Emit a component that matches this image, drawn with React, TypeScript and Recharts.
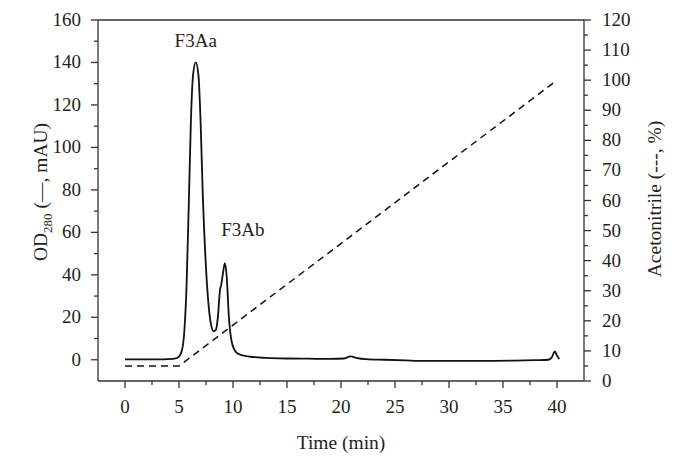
import { LineChart, Line, XAxis, YAxis, ReferenceLine, ReferenceDot, Label } from "recharts";

// OD280 trace (min, mAU)
const odTime = [0, 1, 2, 3, 4, 4.6, 5.0, 5.3, 5.5, 5.7, 5.9, 6.1, 6.3, 6.55, 6.8, 7.0, 7.2, 7.45, 7.7, 7.95, 8.2, 8.4, 8.6, 8.8, 8.9, 9.05, 9.25, 9.42, 9.62, 9.9, 10.3, 10.8, 12, 13, 15, 17, 19, 20.3, 20.9, 21.5, 22.3, 24, 26, 28, 30, 32, 34, 36, 38, 39.2, 39.5, 39.8, 40.0, 40.2];
const odValue = [0.2, 0.2, 0.2, 0.2, 0.3, 0.5, 1.5, 5, 14, 35, 72, 112, 134, 140, 134, 112, 78, 48, 28, 17, 13.5, 14, 20, 33, 35, 40, 45.5, 39, 20, 8, 3.5, 2.2, 1.2, 0.9, 0.6, 0.5, 0.4, 0.6, 1.6, 0.8, 0.3, 0, -0.3, -0.5, -0.5, -0.5, -0.5, -0.4, -0.2, 0, 1, 3.9, 2, 0.3];

// acetonitrile gradient (min, %)
const gradTime = [0, 5, 40];
const gradValue = [5, 5, 100];

const peakNames = ["F3Aa", "F3Ab"];
const peakTime = [6.55, 9.25];
const peakOd = [140, 45.5];

const xTicks = [0, 2.5, 5, 7.5, 10, 12.5, 15, 17.5, 20, 22.5, 25, 27.5, 30, 32.5, 35, 37.5, 40];
const leftTicks = [0, 10, 20, 30, 40, 50, 60, 70, 80, 90, 100, 110, 120, 130, 140, 150, 160];
const rightTicks = [0, 5, 10, 15, 20, 25, 30, 35, 40, 45, 50, 55, 60, 65, 70, 75, 80, 85, 90, 95, 100, 105, 110, 115, 120];

const odData = odTime.map((t, i) => ({ t, od: odValue[i] }));
const gradData = gradTime.map((t, i) => ({ t, acn: gradValue[i] }));

const AXIS = "#333";
const INK = "#231f20";
const FONT = "'Liberation Serif', 'Times New Roman', serif";
const TICK_FS = 19;
const TITLE_FS = 19.5;

const BottomTick = (props: any) => {
  const { x, y, payload } = props;
  const major = payload.value % 5 === 0;
  return (
    <g>
      <line x1={x} y1={y} x2={x} y2={y + (major ? 7 : 4)} stroke={AXIS} strokeWidth={1.3} />
      {major && (
        <text x={x} y={y + 32} textAnchor="middle" fontSize={TICK_FS} fontFamily={FONT} fill={INK}>
          {payload.value}
        </text>
      )}
    </g>
  );
};

const LeftTick = (props: any) => {
  const { x, y, payload } = props;
  const major = payload.value % 20 === 0;
  return (
    <g>
      <line x1={x} y1={y} x2={x - (major ? 7 : 4)} y2={y} stroke={AXIS} strokeWidth={1.3} />
      {major && (
        <text x={x - 17} y={y + 6} textAnchor="end" fontSize={TICK_FS} fontFamily={FONT} fill={INK}>
          {payload.value}
        </text>
      )}
    </g>
  );
};

const RightTick = (props: any) => {
  const { x, y, payload } = props;
  const major = payload.value % 10 === 0;
  return (
    <g>
      <line x1={x} y1={y} x2={x + (major ? 7 : 4)} y2={y} stroke={AXIS} strokeWidth={1.3} />
      {major && (
        <text x={x + 18} y={y + 6} textAnchor="start" fontSize={TICK_FS} fontFamily={FONT} fill={INK}>
          {payload.value}
        </text>
      )}
    </g>
  );
};

const peakLabel = (name: string, dx: number, dy: number) => (props: any) => {
  const { viewBox } = props;
  return (
    <text x={viewBox.x + dx} y={viewBox.y + dy} textAnchor="middle" fontSize={TICK_FS} fontFamily={FONT} fill={INK}>
      {name}
    </text>
  );
};

const labelOffsets = [
  [0, -15],
  [18, -27],
];

export default function App() {
  return (
    <div style={{ position: "absolute", left: 0, top: 0, background: "#fff" }}>
      <LineChart width={678} height={463} margin={{ top: 20, right: 0, bottom: 0, left: 0 }}>
        <XAxis
          xAxisId="x"
          type="number"
          dataKey="t"
          domain={[-2.5, 42.5]}
          ticks={xTicks}
          interval={0}
          allowDataOverflow
          height={82}
          tickSize={0}
          tickMargin={0}
          tick={<BottomTick />}
          stroke={AXIS}
          strokeWidth={1.3}
        >
          <Label
            content={() => (
              <text x={341} y={449} textAnchor="middle" fontSize={TITLE_FS} fontFamily={FONT} fill={INK}>
                Time (min)
              </text>
            )}
          />
        </XAxis>
        <YAxis
          yAxisId="left"
          orientation="left"
          type="number"
          domain={[-10, 160]}
          ticks={leftTicks}
          interval={0}
          allowDataOverflow
          width={98}
          tickSize={0}
          tickMargin={0}
          tick={<LeftTick />}
          stroke={AXIS}
          strokeWidth={1.3}
        >
          <Label
            content={() => (
              <text
                x={47}
                y={192}
                transform="rotate(-90 47 192)"
                textAnchor="middle"
                fontSize={TITLE_FS}
                fontFamily={FONT}
                fill={INK}
              >
                OD
                <tspan fontSize={13} dy={5}>280</tspan>
                <tspan dy={-5}> (—, mAU)</tspan>
              </text>
            )}
          />
        </YAxis>
        <YAxis
          yAxisId="right"
          orientation="right"
          type="number"
          domain={[0, 120]}
          ticks={rightTicks}
          interval={0}
          allowDataOverflow
          width={94}
          tickSize={0}
          tickMargin={0}
          tick={<RightTick />}
          stroke={AXIS}
          strokeWidth={1.3}
        >
          <Label
            content={() => (
              <text
                x={661}
                y={199}
                transform="rotate(-90 661 199)"
                textAnchor="middle"
                fontSize={TITLE_FS}
                fontFamily={FONT}
                fill={INK}
              >
                Acetonitrile (---, %)
              </text>
            )}
          />
        </YAxis>
        <ReferenceLine xAxisId="x" yAxisId="left" y={160} stroke={AXIS} strokeWidth={1.3} />
        <Line
          xAxisId="x"
          yAxisId="right"
          data={gradData}
          dataKey="acn"
          type="linear"
          stroke="#111"
          strokeWidth={1.5}
          strokeDasharray="7 5"
          dot={false}
          isAnimationActive={false}
        />
        <Line
          xAxisId="x"
          yAxisId="left"
          data={odData}
          dataKey="od"
          type="monotone"
          stroke="#111"
          strokeWidth={1.8}
          dot={false}
          isAnimationActive={false}
        />
        {peakNames.map((name, i) => (
          <ReferenceDot
            key={name}
            xAxisId="x"
            yAxisId="left"
            x={peakTime[i]}
            y={peakOd[i]}
            r={0}
            stroke="none"
            label={peakLabel(name, labelOffsets[i][0], labelOffsets[i][1])}
          />
        ))}
      </LineChart>
    </div>
  );
}
